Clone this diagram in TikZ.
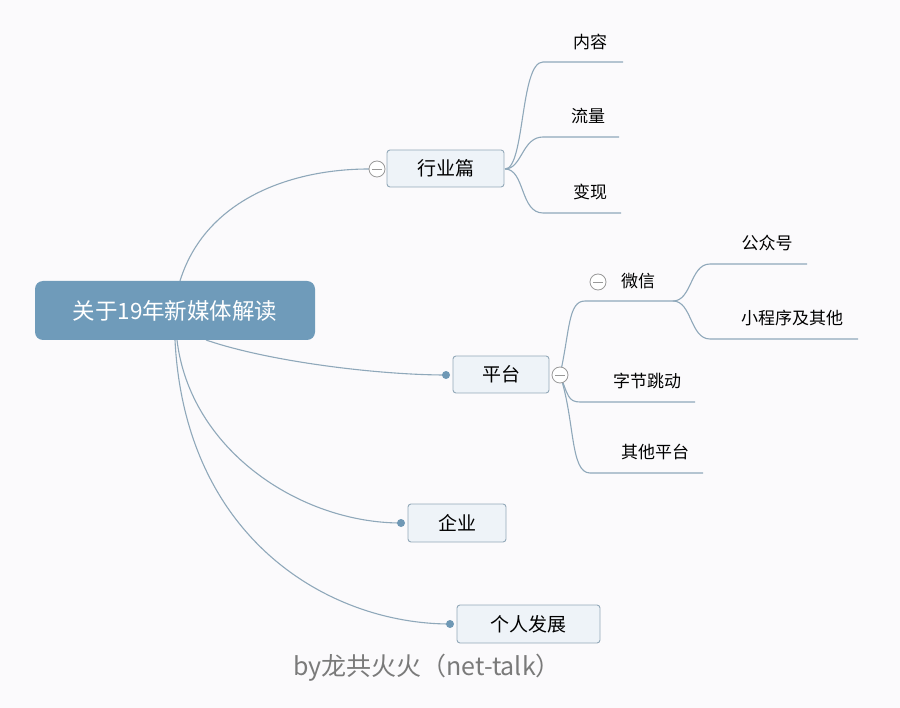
\documentclass[tikz,border=0pt]{standalone}
\usepackage{fontspec}
\setmainfont{Noto Sans CJK SC}
\definecolor{bgcol}{HTML}{FBFAFC}
\definecolor{rootblue}{HTML}{6F9BBA}
\definecolor{boxfill}{HTML}{EEF3F8}
\definecolor{boxborder}{HTML}{93A9B9}
\definecolor{lineblue}{HTML}{8FA8BA}
\definecolor{dotblue}{HTML}{6F98B5}
\definecolor{foot}{HTML}{7A7A7A}
\begin{document}
\begin{tikzpicture}[x=1pt,y=-1pt,
  rootbox/.style={rounded corners=8, fill=rootblue, text=white, font=\fontsize{22.5}{22.5}\selectfont, minimum width=280, minimum height=59, inner sep=0},
  topic/.style={rounded corners=3, draw=boxborder, fill=boxfill, line width=0.9, font=\fontsize{19}{19}\selectfont, minimum height=37, inner sep=0, text=black},
  leaf/.style={font=\fontsize{17}{17}\selectfont, inner sep=0, text=black},
  conn/.style={draw=lineblue, line width=1.1},
  dotnode/.style={circle, fill=dotblue, minimum size=8, inner sep=0},
  collapse/.style={circle, draw=gray!80, fill=white, line width=0.8, minimum size=16, inner sep=0,
    path picture={\draw[gray!80, line width=0.8] ([xshift=-5pt]path picture bounding box.center) -- ([xshift=5pt]path picture bounding box.center);}}
]
\fill[bgcol] (0,0) rectangle (900,708);
\useasboundingbox (0,0) rectangle (900,708);

% coordinates
\coordinate (r1) at (180,281);
\coordinate (r2) at (206,340);
\coordinate (r3) at (177,340);
\coordinate (r4) at (175,340);
\coordinate (nrA) at (543,62);  \coordinate (nrB) at (623,62);
\coordinate (llA) at (543,137); \coordinate (llB) at (619,137);
\coordinate (bxA) at (543,213); \coordinate (bxB) at (621,213);
\coordinate (wxA) at (585,301); \coordinate (wxB) at (673,301);
\coordinate (gzA) at (710,264); \coordinate (gzB) at (807,264);
\coordinate (xcA) at (710,339); \coordinate (xcB) at (858,339);
\coordinate (zjA) at (580,402); \coordinate (zjB) at (695,402);
\coordinate (qtA) at (590,473); \coordinate (qtB) at (703,473);
\coordinate (hyE) at (505,169);
\coordinate (ptE) at (560,375);

% connectors
\draw[conn] (r1) .. controls (205,200) and (290,169) .. (369,169);
\draw[conn] (r2) .. controls (270,362) and (380,375) .. (446,375);
\draw[conn] (r3) .. controls (190,450) and (300,523) .. (401,523);
\draw[conn] (r4) .. controls (185,540) and (330,624) .. (450,624);

\draw[conn] (hyE) .. controls (525,169) and (520,62) .. (nrA) -- (nrB);
\draw[conn] (hyE) .. controls (522,169) and (522,137) .. (llA) -- (llB);
\draw[conn] (hyE) .. controls (525,169) and (520,213) .. (bxA) -- (bxB);

\draw[conn] (ptE) .. controls (570,330) and (568,301) .. (wxA) -- (wxB);
\draw[conn] (wxB) .. controls (692,301) and (690,264) .. (gzA) -- (gzB);
\draw[conn] (wxB) .. controls (692,301) and (690,339) .. (xcA) -- (xcB);
\draw[conn] (ptE) .. controls (568,395) and (568,402) .. (zjA) -- (zjB);
\draw[conn] (ptE) .. controls (575,420) and (570,473) .. (qtA) -- (qtB);

% nodes
\node[rootbox] (root) at (175,310.5) {关于19年新媒体解读};

\node[topic, minimum width=117] (hy) at (445.5,168.5) {行业篇};
\node[collapse] (hyc) at (377,169) {};

\node[topic, minimum width=96] (pt) at (501,374.5) {平台};
\node[dotnode] (ptd) at (446,375) {};
\node[collapse] (ptc) at (560,375) {};

\node[topic, minimum width=98, minimum height=38] (qy) at (457,523) {企业};
\node[dotnode] (qyd) at (401,523) {};

\node[topic, minimum width=143, minimum height=38] (gr) at (528.5,624) {个人发展};
\node[dotnode] (grd) at (450,624) {};

\node[leaf] (nr) at (590,42) {内容};
\node[leaf] (ll) at (588,116) {流量};
\node[leaf] (bx) at (590,192) {变现};
\node[collapse] (wxc) at (598,282) {};
\node[leaf] (wx) at (638,281) {微信};
\node[leaf] (gz) at (767,243) {公众号};
\node[leaf] (xc) at (792,318) {小程序及其他};
\node[leaf] (zj) at (647,381) {字节跳动};
\node[leaf] (qt) at (655,452) {其他平台};

\node[font=\fontsize{25}{25}\selectfont, text=foot, inner sep=0] (ft) at (427,668) {by龙共火火（net-talk）};
\end{tikzpicture}
\end{document}
